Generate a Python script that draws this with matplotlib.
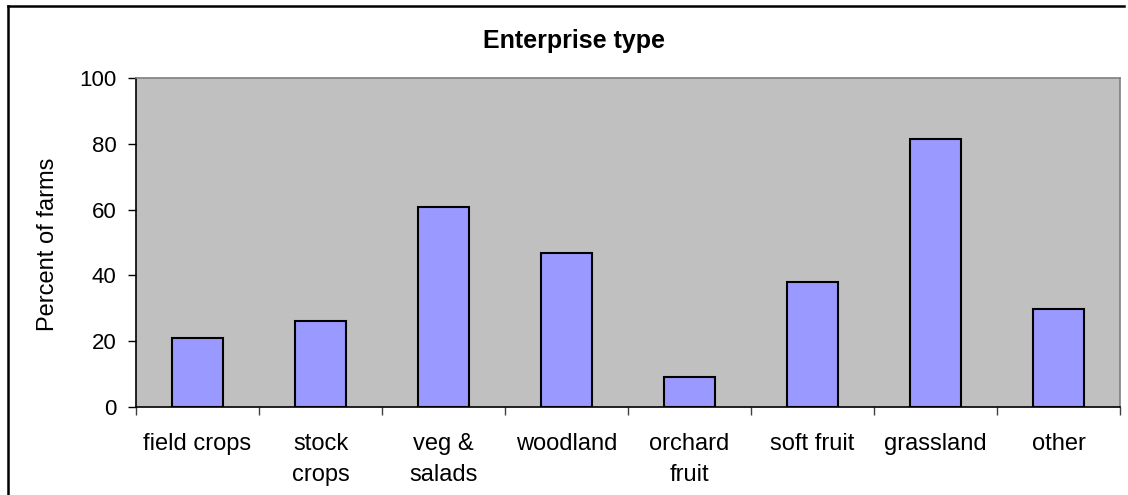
import matplotlib
matplotlib.use("Agg")
import matplotlib.pyplot as plt
from matplotlib.lines import Line2D
import numpy as np

plt.rcParams["font.family"] = ["Liberation Sans", "DejaVu Sans"]

categories = ["field crops", "stock\ncrops", "veg &\nsalads", "woodland",
              "orchard\nfruit", "soft fruit", "grassland", "other"]
percent_farms = [20.8, 26.2, 60.9, 46.9, 9.1, 37.9, 81.6, 29.8]
y_ticks = [0, 20, 40, 60, 80, 100]

W, H = 1128, 495
fig = plt.figure(figsize=(W / 100, H / 100), dpi=100)

# outer frame: only left and top edges are visible in the crop
fig.add_artist(Line2D([8 / W, 8 / W], [0, 1 - 6 / H], transform=fig.transFigure,
                      color="black", linewidth=1.8))
fig.add_artist(Line2D([8 / W, 1124 / W], [1 - 6 / H, 1 - 6 / H], transform=fig.transFigure,
                      color="black", linewidth=1.8))

ax = fig.add_axes([136 / W, 1 - 406.7 / H, 984 / W, 328.4 / H])
ax.set_facecolor("#C0C0C0")

x = np.arange(len(categories))
ax.bar(x, percent_farms, width=0.41, color="#9999FF", edgecolor="black", linewidth=1.5)

ax.set_xlim(-0.5, len(categories) - 0.5)
ax.set_ylim(0, 100)
ax.set_yticks(y_ticks)
ax.tick_params(axis="y", labelsize=16, length=6, width=1, direction="out", pad=8)

ax.set_xticks(x)
ax.set_xticklabels(categories, fontsize=17, va="top", linespacing=1.5)
ax.tick_params(axis="x", which="major", length=0, pad=19)
ax.set_xticks(np.arange(-0.5, len(categories)), minor=True)
ax.tick_params(axis="x", which="minor", length=6, width=1, color="#404040")

for side in ["top", "right"]:
    ax.spines[side].set_color("#808080")
    ax.spines[side].set_linewidth(1.2)
for side in ["left", "bottom"]:
    ax.spines[side].set_color("black")
    ax.spines[side].set_linewidth(1.2)

ax.set_ylabel("Percent of farms", fontsize=17)
ax.yaxis.set_label_coords((59 - 136) / 984, 0.495)
fig.text(574 / W, 1 - 41 / H, "Enterprise type", ha="center", va="center",
         fontsize=18, fontweight="bold")

plt.savefig("out.png", dpi=100)
plt.close()
